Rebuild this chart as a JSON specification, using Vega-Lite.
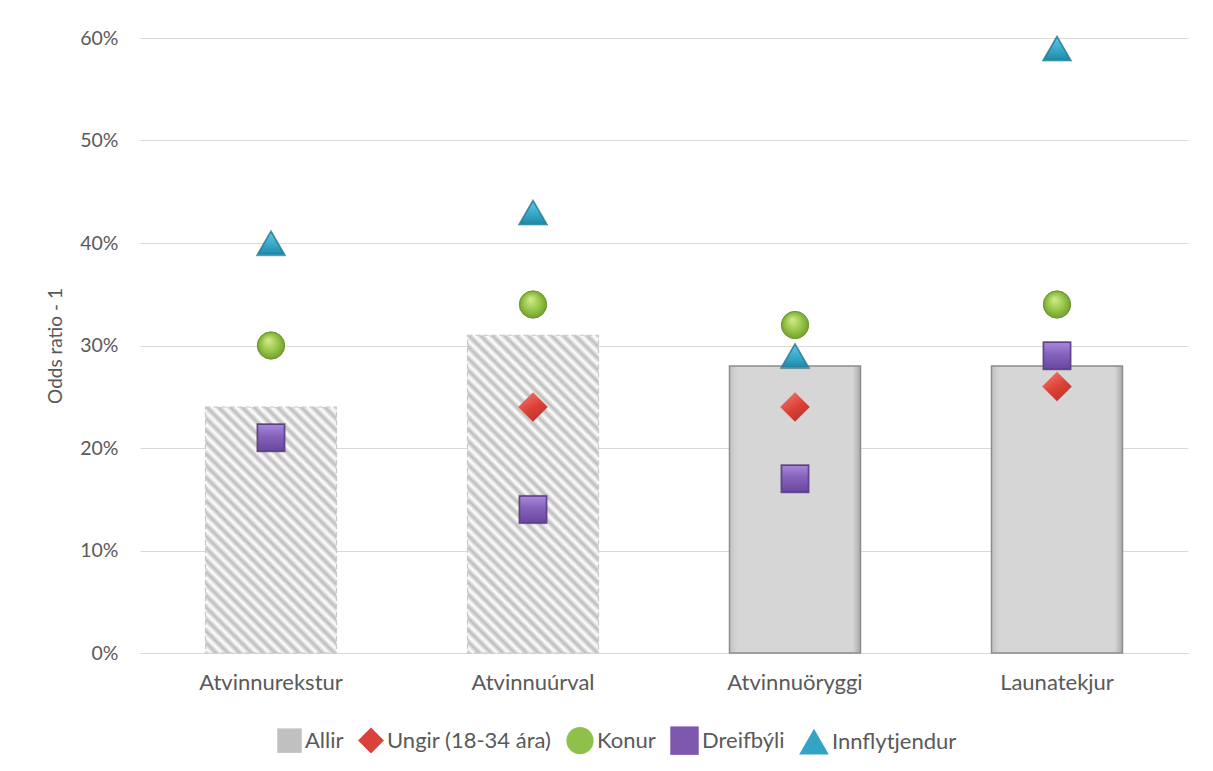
{
  "$schema": "https://vega.github.io/schema/vega-lite/v6.json",
  "width": 1048,
  "height": 615,
  "autosize": "none",
  "padding": {"left": 140, "top": 38, "right": 25, "bottom": 118},
  "background": "white",
  "config": {
    "font": "Lato",
    "view": {"stroke": null},
    "axis": {"labelFont": "Lato", "titleFont": "Lato", "labelColor": "#595959", "titleColor": "#595959", "titleFontWeight": "normal"},
    "legend": {"labelFont": "Lato", "labelFontSize": 22, "labelColor": "#595959", "labelLimit": 400}
  },
  "data": {
    "values": [
      {"cat": "Atvinnurekstur", "series": "Allir", "value": 0.24},
      {"cat": "Atvinnuúrval", "series": "Allir", "value": 0.31},
      {"cat": "Atvinnuöryggi", "series": "Allir", "value": 0.28},
      {"cat": "Launatekjur", "series": "Allir", "value": 0.28},
      {"cat": "Atvinnuúrval", "series": "Ungir (18-34 ára)", "value": 0.24},
      {"cat": "Atvinnuöryggi", "series": "Ungir (18-34 ára)", "value": 0.24},
      {"cat": "Launatekjur", "series": "Ungir (18-34 ára)", "value": 0.26},
      {"cat": "Atvinnurekstur", "series": "Konur", "value": 0.30},
      {"cat": "Atvinnuúrval", "series": "Konur", "value": 0.34},
      {"cat": "Atvinnuöryggi", "series": "Konur", "value": 0.32},
      {"cat": "Launatekjur", "series": "Konur", "value": 0.34},
      {"cat": "Atvinnurekstur", "series": "Dreifbýli", "value": 0.21},
      {"cat": "Atvinnuúrval", "series": "Dreifbýli", "value": 0.14},
      {"cat": "Atvinnuöryggi", "series": "Dreifbýli", "value": 0.17},
      {"cat": "Launatekjur", "series": "Dreifbýli", "value": 0.29},
      {"cat": "Atvinnurekstur", "series": "Innflytjendur", "value": 0.40},
      {"cat": "Atvinnuúrval", "series": "Innflytjendur", "value": 0.43},
      {"cat": "Atvinnuöryggi", "series": "Innflytjendur", "value": 0.29},
      {"cat": "Launatekjur", "series": "Innflytjendur", "value": 0.59}
    ]
  },
  "encoding": {
    "x": {
      "field": "cat", "type": "nominal",
      "sort": ["Atvinnurekstur", "Atvinnuúrval", "Atvinnuöryggi", "Launatekjur"],
      "scale": {"paddingInner": 0.5, "paddingOuter": 0.25},
      "axis": {"title": null, "labelAngle": 0, "ticks": false, "domainColor": "#d9d9d9", "domainWidth": 1, "labelPadding": 19, "labelFontSize": 22}
    },
    "y": {
      "field": "value", "type": "quantitative",
      "scale": {"domain": [0, 0.6]},
      "axis": {"title": "Odds ratio - 1", "format": ".0%", "values": [0, 0.1, 0.2, 0.3, 0.4, 0.5, 0.6], "labelOverlap": false, "domain": false, "ticks": false, "gridColor": "#d9d9d9", "labelPadding": 22, "labelFontSize": 19.5, "titleFontSize": 19, "titlePadding": 14}
    }
  },
  "layer": [
    {
      "transform": [{"filter": "datum.series == 'Allir' && datum.cat == 'Atvinnurekstur'"}],
      "mark": {"type": "bar", "stroke": "#c8c8c8", "strokeWidth": 1.2, "strokeDash": [5, 3],
        "fill": {"gradient": "linear", "x1": 0, "y1": 1.2927, "x2": 0.7572, "y2": -0.1293, "stops": [
{"offset":0,"color":"#bcbcbc"},{"offset":0.0132,"color":"#ffffff"},{"offset":0.0263,"color":"#bcbcbc"},{"offset":0.0395,"color":"#ffffff"},{"offset":0.0526,"color":"#bcbcbc"},{"offset":0.0658,"color":"#ffffff"},{"offset":0.0789,"color":"#bcbcbc"},{"offset":0.0921,"color":"#ffffff"},{"offset":0.1053,"color":"#bcbcbc"},{"offset":0.1184,"color":"#ffffff"},{"offset":0.1316,"color":"#bcbcbc"},{"offset":0.1447,"color":"#ffffff"},{"offset":0.1579,"color":"#bcbcbc"},{"offset":0.1711,"color":"#ffffff"},{"offset":0.1842,"color":"#bcbcbc"},{"offset":0.1974,"color":"#ffffff"},{"offset":0.2105,"color":"#bcbcbc"},{"offset":0.2237,"color":"#ffffff"},{"offset":0.2368,"color":"#bcbcbc"},{"offset":0.25,"color":"#ffffff"},{"offset":0.2632,"color":"#bcbcbc"},{"offset":0.2763,"color":"#ffffff"},{"offset":0.2895,"color":"#bcbcbc"},{"offset":0.3026,"color":"#ffffff"},{"offset":0.3158,"color":"#bcbcbc"},{"offset":0.3289,"color":"#ffffff"},{"offset":0.3421,"color":"#bcbcbc"},{"offset":0.3553,"color":"#ffffff"},{"offset":0.3684,"color":"#bcbcbc"},{"offset":0.3816,"color":"#ffffff"},{"offset":0.3947,"color":"#bcbcbc"},{"offset":0.4079,"color":"#ffffff"},{"offset":0.4211,"color":"#bcbcbc"},{"offset":0.4342,"color":"#ffffff"},{"offset":0.4474,"color":"#bcbcbc"},{"offset":0.4605,"color":"#ffffff"},{"offset":0.4737,"color":"#bcbcbc"},{"offset":0.4868,"color":"#ffffff"},{"offset":0.5,"color":"#bcbcbc"},{"offset":0.5132,"color":"#ffffff"},{"offset":0.5263,"color":"#bcbcbc"},{"offset":0.5395,"color":"#ffffff"},{"offset":0.5526,"color":"#bcbcbc"},{"offset":0.5658,"color":"#ffffff"},{"offset":0.5789,"color":"#bcbcbc"},{"offset":0.5921,"color":"#ffffff"},{"offset":0.6053,"color":"#bcbcbc"},{"offset":0.6184,"color":"#ffffff"},{"offset":0.6316,"color":"#bcbcbc"},{"offset":0.6447,"color":"#ffffff"},{"offset":0.6579,"color":"#bcbcbc"},{"offset":0.6711,"color":"#ffffff"},{"offset":0.6842,"color":"#bcbcbc"},{"offset":0.6974,"color":"#ffffff"},{"offset":0.7105,"color":"#bcbcbc"},{"offset":0.7237,"color":"#ffffff"},{"offset":0.7368,"color":"#bcbcbc"},{"offset":0.75,"color":"#ffffff"},{"offset":0.7632,"color":"#bcbcbc"},{"offset":0.7763,"color":"#ffffff"},{"offset":0.7895,"color":"#bcbcbc"},{"offset":0.8026,"color":"#ffffff"},{"offset":0.8158,"color":"#bcbcbc"},{"offset":0.8289,"color":"#ffffff"},{"offset":0.8421,"color":"#bcbcbc"},{"offset":0.8553,"color":"#ffffff"},{"offset":0.8684,"color":"#bcbcbc"},{"offset":0.8816,"color":"#ffffff"},{"offset":0.8947,"color":"#bcbcbc"},{"offset":0.9079,"color":"#ffffff"},{"offset":0.9211,"color":"#bcbcbc"},{"offset":0.9342,"color":"#ffffff"},{"offset":0.9474,"color":"#bcbcbc"},{"offset":0.9605,"color":"#ffffff"},{"offset":0.9737,"color":"#bcbcbc"},{"offset":0.9868,"color":"#ffffff"},{"offset":1,"color":"#bcbcbc"}
        ]}
      }
    },
    {
      "transform": [{"filter": "datum.series == 'Allir' && datum.cat == 'Atvinnuúrval'"}],
      "mark": {"type": "bar", "stroke": "#c8c8c8", "strokeWidth": 1.2, "strokeDash": [5, 3],
        "fill": {"gradient": "linear", "x1": 0, "y1": 1, "x2": 0.4973, "y2": -0.2071, "stops": [
{"offset":0,"color":"#bcbcbc"},{"offset":0.0132,"color":"#ffffff"},{"offset":0.0263,"color":"#bcbcbc"},{"offset":0.0395,"color":"#ffffff"},{"offset":0.0526,"color":"#bcbcbc"},{"offset":0.0658,"color":"#ffffff"},{"offset":0.0789,"color":"#bcbcbc"},{"offset":0.0921,"color":"#ffffff"},{"offset":0.1053,"color":"#bcbcbc"},{"offset":0.1184,"color":"#ffffff"},{"offset":0.1316,"color":"#bcbcbc"},{"offset":0.1447,"color":"#ffffff"},{"offset":0.1579,"color":"#bcbcbc"},{"offset":0.1711,"color":"#ffffff"},{"offset":0.1842,"color":"#bcbcbc"},{"offset":0.1974,"color":"#ffffff"},{"offset":0.2105,"color":"#bcbcbc"},{"offset":0.2237,"color":"#ffffff"},{"offset":0.2368,"color":"#bcbcbc"},{"offset":0.25,"color":"#ffffff"},{"offset":0.2632,"color":"#bcbcbc"},{"offset":0.2763,"color":"#ffffff"},{"offset":0.2895,"color":"#bcbcbc"},{"offset":0.3026,"color":"#ffffff"},{"offset":0.3158,"color":"#bcbcbc"},{"offset":0.3289,"color":"#ffffff"},{"offset":0.3421,"color":"#bcbcbc"},{"offset":0.3553,"color":"#ffffff"},{"offset":0.3684,"color":"#bcbcbc"},{"offset":0.3816,"color":"#ffffff"},{"offset":0.3947,"color":"#bcbcbc"},{"offset":0.4079,"color":"#ffffff"},{"offset":0.4211,"color":"#bcbcbc"},{"offset":0.4342,"color":"#ffffff"},{"offset":0.4474,"color":"#bcbcbc"},{"offset":0.4605,"color":"#ffffff"},{"offset":0.4737,"color":"#bcbcbc"},{"offset":0.4868,"color":"#ffffff"},{"offset":0.5,"color":"#bcbcbc"},{"offset":0.5132,"color":"#ffffff"},{"offset":0.5263,"color":"#bcbcbc"},{"offset":0.5395,"color":"#ffffff"},{"offset":0.5526,"color":"#bcbcbc"},{"offset":0.5658,"color":"#ffffff"},{"offset":0.5789,"color":"#bcbcbc"},{"offset":0.5921,"color":"#ffffff"},{"offset":0.6053,"color":"#bcbcbc"},{"offset":0.6184,"color":"#ffffff"},{"offset":0.6316,"color":"#bcbcbc"},{"offset":0.6447,"color":"#ffffff"},{"offset":0.6579,"color":"#bcbcbc"},{"offset":0.6711,"color":"#ffffff"},{"offset":0.6842,"color":"#bcbcbc"},{"offset":0.6974,"color":"#ffffff"},{"offset":0.7105,"color":"#bcbcbc"},{"offset":0.7237,"color":"#ffffff"},{"offset":0.7368,"color":"#bcbcbc"},{"offset":0.75,"color":"#ffffff"},{"offset":0.7632,"color":"#bcbcbc"},{"offset":0.7763,"color":"#ffffff"},{"offset":0.7895,"color":"#bcbcbc"},{"offset":0.8026,"color":"#ffffff"},{"offset":0.8158,"color":"#bcbcbc"},{"offset":0.8289,"color":"#ffffff"},{"offset":0.8421,"color":"#bcbcbc"},{"offset":0.8553,"color":"#ffffff"},{"offset":0.8684,"color":"#bcbcbc"},{"offset":0.8816,"color":"#ffffff"},{"offset":0.8947,"color":"#bcbcbc"},{"offset":0.9079,"color":"#ffffff"},{"offset":0.9211,"color":"#bcbcbc"},{"offset":0.9342,"color":"#ffffff"},{"offset":0.9474,"color":"#bcbcbc"},{"offset":0.9605,"color":"#ffffff"},{"offset":0.9737,"color":"#bcbcbc"},{"offset":0.9868,"color":"#ffffff"},{"offset":1,"color":"#bcbcbc"}
        ]}
      }
    },
    {
      "transform": [{"filter": "datum.series == 'Allir' && (datum.cat == 'Atvinnuöryggi' || datum.cat == 'Launatekjur')"}],
      "mark": {"type": "bar", "stroke": "#8c8c8c", "strokeWidth": 1.5,
        "fill": {"gradient": "linear", "x1": 0, "y1": 0, "x2": 1, "y2": 0, "stops": [
          {"offset": 0, "color": "#c2c2c2"}, {"offset": 0.06, "color": "#d6d6d6"}, {"offset": 0.94, "color": "#d6d6d6"}, {"offset": 1, "color": "#a9a9a9"}
        ]}
      }
    },
    {
      "transform": [{"filter": "datum.series != 'Allir'"}],
      "mark": {"type": "point", "filled": true, "opacity": 1, "stroke": "#3a3a3a", "strokeOpacity": 0.35, "strokeWidth": 1},
      "encoding": {
        "color": {
          "field": "series", "type": "nominal",
          "scale": {"domain": ["Allir", "Ungir (18-34 ára)", "Konur", "Dreifbýli", "Innflytjendur"], "range": ["#c0c0c0", "#d9413b", "#8fc14a", "#7d58ad", "#34a3c4"]},
          "legend": {"title": null, "orient": "none", "legendX": 137, "legendY": 688, "direction": "horizontal", "symbolSize": 220, "labelOffset": 3, "columnPadding": 14, "symbolStrokeWidth": 0}
        },
        "shape": {
          "field": "series", "type": "nominal",
          "scale": {"domain": ["Allir", "Ungir (18-34 ára)", "Konur", "Dreifbýli", "Innflytjendur"], "range": ["square", "diamond", "circle", "square", "triangle-up"]},
          "legend": {"title": null, "orient": "none", "legendX": 137, "legendY": 688, "direction": "horizontal", "symbolSize": 220, "labelOffset": 3, "columnPadding": 14, "symbolStrokeWidth": 0}
        },
        "size": {
          "field": "series", "type": "ordinal",
          "scale": {"domain": ["Allir", "Ungir (18-34 ára)", "Konur", "Dreifbýli", "Innflytjendur"], "range": [600, 880, 740, 700, 640]},
          "legend": null
        }
      }
    },
    {
      "transform": [{"filter": "datum.series == 'Ungir (18-34 ára)'"}],
      "mark": {"type": "point", "shape": "diamond", "size": 880, "filled": true, "opacity": 1, "strokeWidth": 0,
        "fill": {"gradient": "linear", "x1": 0.2, "y1": 0, "x2": 0.8, "y2": 1, "stops": [{"offset": 0, "color": "#f2786c"}, {"offset": 0.5, "color": "#dc4238"}, {"offset": 1, "color": "#b8302a"}]}}
    },
    {
      "transform": [{"filter": "datum.series == 'Konur'"}],
      "mark": {"type": "point", "shape": "circle", "size": 740, "filled": true, "opacity": 1, "stroke": "#6f9a2c", "strokeWidth": 1,
        "fill": {"gradient": "radial", "x1": 0.4, "y1": 0.3, "r1": 0, "x2": 0.5, "y2": 0.5, "r2": 0.55, "stops": [{"offset": 0, "color": "#d4ec8e"}, {"offset": 0.55, "color": "#98c74a"}, {"offset": 1, "color": "#6e9a2a"}]}}
    },
    {
      "transform": [{"filter": "datum.series == 'Dreifbýli'"}],
      "mark": {"type": "point", "shape": "square", "size": 700, "filled": true, "opacity": 1, "stroke": "#5a3d86", "strokeWidth": 1,
        "fill": {"gradient": "linear", "x1": 0, "y1": 0, "x2": 0, "y2": 1, "stops": [{"offset": 0, "color": "#a987dc"}, {"offset": 0.45, "color": "#8462bb"}, {"offset": 1, "color": "#6a479f"}]}}
    },
    {
      "transform": [{"filter": "datum.series == 'Innflytjendur'"}],
      "mark": {"type": "point", "shape": "triangle-up", "size": 640, "filled": true, "opacity": 1, "stroke": "#24809d", "strokeWidth": 1,
        "fill": {"gradient": "linear", "x1": 0, "y1": 0, "x2": 0, "y2": 1, "stops": [{"offset": 0, "color": "#5fc6e2"}, {"offset": 0.6, "color": "#36a7c7"}, {"offset": 1, "color": "#238aa8"}]}}
    }
  ]
}
